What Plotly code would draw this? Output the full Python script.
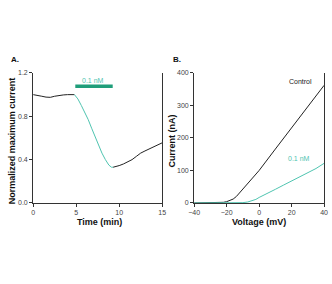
import plotly.graph_objects as go

# Panel A data
t_pre = [0, 0.5, 1, 1.5, 2, 2.5, 3, 3.5, 4, 4.5, 4.8]
v_pre = [1.0, 0.995, 0.985, 0.977, 0.975, 0.985, 0.993, 0.997, 1.0, 1.0, 1.0]
t_drug = [4.8, 5.2, 5.6, 6.0, 6.4, 6.8, 7.2, 7.6, 8.0, 8.4, 8.8, 9.1, 9.3]
v_drug = [1.0, 0.96, 0.9, 0.84, 0.77, 0.69, 0.61, 0.53, 0.46, 0.40, 0.35, 0.33, 0.33]
t_post = [9.3, 9.6, 10, 10.5, 11, 11.5, 12, 12.5, 13, 13.5, 14, 14.5, 15]
v_post = [0.33, 0.335, 0.345, 0.36, 0.38, 0.40, 0.43, 0.46, 0.48, 0.50, 0.52, 0.54, 0.555]
bar_t = [4.9, 9.25]
bar_v = 1.077

# Panel B data
v_ctrl = [-40, -30, -25, -22, -20, -18, -16, -14, -12, -10, -5, 0, 10, 20, 30, 40]
i_ctrl = [0, 0, 1, 2, 4, 7, 12, 20, 31, 43, 72, 100, 166, 232, 297, 362]
v_drug_iv = [-40, -20, -15, -10, -7, -4, -2, 0, 3, 6, 10, 15, 20, 25, 30, 35, 40]
i_drug_iv = [0, 0, 0, 1, 3, 7, 11, 17, 24, 32, 42, 55, 68, 80, 92, 106, 122]

BLACK = "#222222"
CYAN = "#4fc4b0"
BAR = "#1f9e7a"
TICKC = "#444444"
FONT = "Liberation Sans, Arial"

fig = go.Figure()
fig.add_trace(go.Scatter(x=t_pre, y=v_pre, mode="lines", line=dict(color=BLACK, width=1), xaxis="x", yaxis="y"))
fig.add_trace(go.Scatter(x=t_drug, y=v_drug, mode="lines", line=dict(color=CYAN, width=1), xaxis="x", yaxis="y"))
fig.add_trace(go.Scatter(x=t_post, y=v_post, mode="lines", line=dict(color=BLACK, width=1), xaxis="x", yaxis="y"))
fig.add_trace(go.Scatter(x=bar_t, y=[bar_v, bar_v], mode="lines", line=dict(color=BAR, width=3.5), xaxis="x", yaxis="y"))

fig.add_trace(go.Scatter(x=v_ctrl, y=i_ctrl, mode="lines", line=dict(color=BLACK, width=1), xaxis="x2", yaxis="y2"))
fig.add_trace(go.Scatter(x=v_drug_iv, y=i_drug_iv, mode="lines", line=dict(color=CYAN, width=1), xaxis="x2", yaxis="y2"))

ax_common = dict(showline=True, linecolor="#333333", linewidth=1, ticks="outside", ticklen=3,
                 tickcolor="#333333", tickfont=dict(family=FONT, size=7, color=TICKC),
                 showgrid=False, zeroline=False)

y0 = 1 - 204/284
y1 = 1 - 70.7/284
fig.update_layout(
    width=332, height=284, margin=dict(l=0, r=0, t=0, b=0),
    paper_bgcolor="white", plot_bgcolor="white", showlegend=False,
    xaxis=dict(domain=[28/332, 161/332], range=[0, 15], tickvals=[0, 5, 10, 15], anchor="y", **ax_common),
    yaxis=dict(domain=[y0, y1], range=[0, 1.2], tickvals=[0, 0.4, 0.8, 1.2], tickformat=".1f",
               anchor="x", mirror=True, **ax_common),
    xaxis2=dict(domain=[194/332, 328/332], range=[-40, 40], tickvals=[-40, -20, 0, 20, 40], anchor="y2", **ax_common),
    yaxis2=dict(domain=[y0, y1], range=[0, 400], tickvals=[0, 100, 200, 300, 400], anchor="x2",
                mirror=True, **ax_common),
)

bold = dict(family=FONT, size=9, color="#111111")


def pann(text, px, py, font, angle=0):
    return dict(text=text, x=px/332, y=1-py/284, xref="paper", yref="paper", showarrow=False,
                xanchor="center", yanchor="middle", textangle=angle, font=font)


anns = [
    pann("<b>A.</b>", 9, 57, dict(family=FONT, size=8, color="#111111")),
    pann("<b>B.</b>", 176, 57, dict(family=FONT, size=8, color="#111111")),
    pann("<b>Time (min)</b>", 96, 224, bold),
    pann("<b>Voltage (mV)</b>", 261, 224, bold),
    pann("<b>Normalized maximum current</b>", 6, 140, bold, -90),
    pann("<b>Current (nA)</b>", 171, 140, bold, -90),
    dict(text="0.1 nM", x=7.0, y=1.13, xref="x", yref="y", showarrow=False,
         xanchor="center", yanchor="middle", font=dict(family=FONT, size=7, color=CYAN)),
    dict(text="Control", x=25.5, y=375, xref="x2", yref="y2", showarrow=False,
         xanchor="center", yanchor="middle", font=dict(family=FONT, size=7, color="#222222")),
    dict(text="0.1 nM", x=24.5, y=138, xref="x2", yref="y2", showarrow=False,
         xanchor="center", yanchor="middle", font=dict(family=FONT, size=7, color=CYAN)),
]
fig.update_layout(annotations=anns)

fig.write_html("out.html")
